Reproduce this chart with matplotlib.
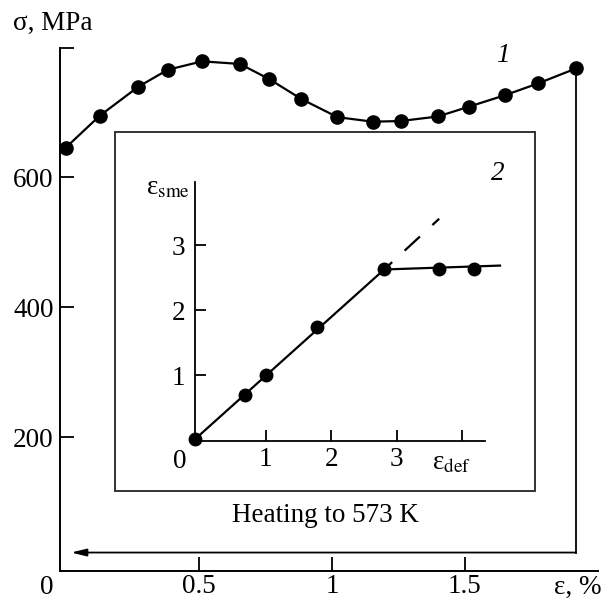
import numpy as np
import matplotlib
matplotlib.use('Agg')
import matplotlib.pyplot as plt
from matplotlib.patches import Rectangle

plt.rcParams['font.family'] = ['Liberation Serif', 'DejaVu Serif']
plt.rcParams['mathtext.fontset'] = 'stix'

# curve 1: stress vs strain
eps = [0.0, 0.127, 0.273, 0.383, 0.512, 0.654, 0.763, 0.885, 1.021, 1.153,
       1.258, 1.398, 1.514, 1.652, 1.775, 1.917]
sigma = [646, 695, 740, 766, 779, 775, 752, 721, 693, 686,
         687, 694, 709, 727, 745, 768]
arrow_y = 22
arrow_end = 0.02

# curve 2 (inset): shape memory strain vs deformation
e_def = [-0.08, 0.68, 1.0, 1.78, 2.81, 3.65, 4.18]
e_sme = [0.02, 0.70, 1.0, 1.74, 2.63, 2.63, 2.63]
fit_x = [-0.08, 2.81]
fit_y = [0.02, 2.63]
dash_x = [2.81, 3.65]
dash_y = [2.63, 3.41]
flat_x = [2.81, 4.58]
flat_y = [2.63, 2.69]

fs = 19.5
fig = plt.figure(figsize=(6.11, 6.01), dpi=100)

ax = fig.add_axes([0.099, 0.0504, 0.8797, 0.8702])
ax.set_xlim(-0.02, 2.0)
ax.set_ylim(-6, 800)
ax.spines['top'].set_visible(False)
ax.spines['right'].set_visible(False)
for s in ['left', 'bottom']:
    ax.spines[s].set_linewidth(1.4)
ax.set_xticks([0.5, 1, 1.5])
ax.set_xticklabels(['0.5', '1', '1.5'])
ax.set_yticks([200, 400, 600, 800])
ax.set_yticklabels(['200', '400', '600', ''])
ax.tick_params(direction='in', length=10, width=1.3, labelsize=fs)
ax.tick_params(axis='x', pad=2.5)
ax.tick_params(axis='y', pad=5)

ax.plot(eps, sigma, color='k', lw=1.6, marker='o', ms=9.5, clip_on=False, zorder=5)
ax.plot([eps[-1], eps[-1]], [sigma[-1], arrow_y], color='k', lw=1.3, clip_on=False)
ax.annotate('', xy=(arrow_end, arrow_y), xytext=(eps[-1], arrow_y),
            arrowprops=dict(arrowstyle='-|>,head_length=0.9,head_width=0.22',
                            color='k', lw=1.3, shrinkA=0, shrinkB=0))

fig.text(46.8 / 611, 1 - 587 / 601, '0', fontsize=fs, ha='center', va='center')
fig.text(578 / 611, 1 - 587 / 601, 'ε, %', fontsize=fs, ha='center', va='center')
fig.text(13 / 611, 1 - 23 / 601, 'σ, MPa', fontsize=fs, ha='left', va='center')
fig.text(503 / 611, 1 - 55 / 601, '1', fontsize=fs, style='italic', ha='center', va='center')
fig.text(498 / 611, 1 - 173 / 601, '2', fontsize=fs, style='italic', ha='center', va='center')
fig.text(325 / 611, 1 - 515 / 601, 'Heating to 573 K', fontsize=fs, ha='center', va='center')

box = Rectangle((115 / 611, 1 - 490.5 / 601), 419.5 / 611, 358.8 / 601,
                transform=fig.transFigure, fill=False, edgecolor='#333333', lw=1.4)
fig.patches.append(box)

# inset
ins = fig.add_axes([195 / 611, 1 - 440.5 / 601, 290 / 611, 258.8 / 601])
ins.patch.set_alpha(0)
ins.set_xlim(-0.08, 4.35)
ins.set_ylim(0, 3.98)
ins.spines['top'].set_visible(False)
ins.spines['right'].set_visible(False)
for s in ['left', 'bottom']:
    ins.spines[s].set_linewidth(1.3)
ins.set_xticks([1, 2, 3, 4])
ins.set_xticklabels(['1', '2', '3', ''])
ins.set_yticks([1, 2, 3])
ins.tick_params(direction='in', length=8, width=1.3, labelsize=fs)
ins.tick_params(axis='x', pad=5)
ins.tick_params(axis='y', pad=7)

ins.plot(fit_x, fit_y, color='k', lw=1.6, clip_on=False)
ins.plot(flat_x, flat_y, color='k', lw=1.6, clip_on=False)
ins.plot(dash_x, dash_y, color='k', lw=1.6, linestyle=(4.5, (9.4, 7.6)), clip_on=False)
ins.plot(e_def, e_sme, 'o', color='k', ms=9, clip_on=False, zorder=5)

fig.text(168 / 611, 1 - 188 / 601, 'ε$_{\\mathrm{sme}}$', fontsize=fs,
         ha='center', va='center')
fig.text(452 / 611, 1 - 463 / 601, 'ε$_{\\mathrm{def}}$', fontsize=fs,
         ha='center', va='center')
fig.text(180 / 611, 1 - 461 / 601, '0', fontsize=fs, ha='center', va='center')

fig.savefig('out.png', dpi=100)
